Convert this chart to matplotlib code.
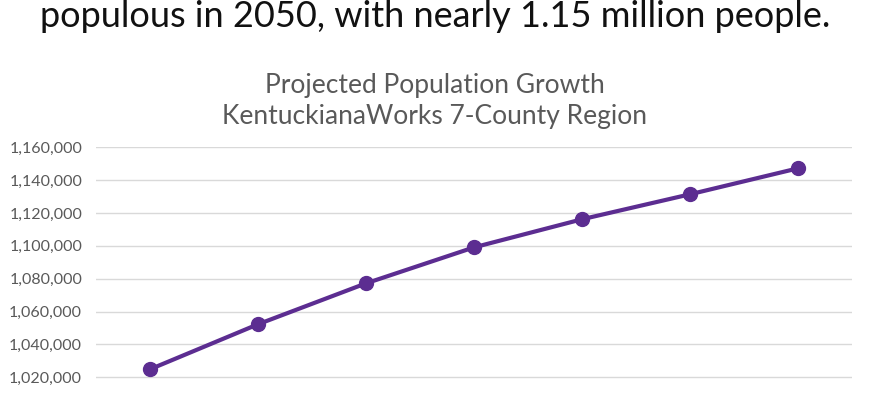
import matplotlib
matplotlib.use("Agg")
import matplotlib.pyplot as plt
from matplotlib.ticker import FuncFormatter

years = ["2020", "2025", "2030", "2035", "2040", "2045", "2050"]
population = [1024900, 1052300, 1077200, 1099100, 1116200, 1131400, 1147200]
y_ticks = [1020000, 1040000, 1060000, 1080000, 1100000, 1120000, 1140000, 1160000]
headline = "populous in 2050, with nearly 1.15 million people."
title_line1 = "Projected Population Growth"
title_line2 = "KentuckianaWorks 7-County Region"

plt.rcParams["font.family"] = ["Lato", "DejaVu Sans"]

W, H = 870, 400
fig = plt.figure(figsize=(W / 100, H / 100), dpi=100)
fig.patch.set_facecolor("white")

# axes: plot area x 96..852 px; y: 1,160,000 at 147.3 px, 1,000,000 at 410.2 px
left, right = 96 / W, 852 / W
top_px, bot_px = 147.3, 410.2
ax = fig.add_axes([left, 1 - bot_px / H, right - left, (bot_px - top_px) / H])

x = list(range(len(years)))
ax.plot(x, population, color="#5C2D91", lw=3, marker="o", ms=10,
        solid_capstyle="round", zorder=3)
ax.set_xlim(-0.5, len(years) - 0.5)
ax.set_ylim(1000000, 1160000)
ax.set_yticks(y_ticks)
ax.yaxis.set_major_formatter(FuncFormatter(lambda v, p: f"{int(v):,}"))
ax.grid(axis="y", color="#D9D9D9", lw=1)
ax.set_axisbelow(True)
for s in ax.spines.values():
    s.set_visible(False)
ax.tick_params(axis="y", length=0, pad=10, labelsize=11.5, labelcolor="#595959")
ax.set_xticks(x)
ax.set_xticklabels(years)
ax.tick_params(axis="x", length=0, labelbottom=False)

fig.text(0.5, 1 - 27 / H, headline, ha="center", va="baseline",
         fontsize=26, color="#111111")
fig.text(0.5, 1 - 93 / H, title_line1, ha="center",
         va="baseline", fontsize=19, color="#595959")
fig.text(0.5, 1 - 124 / H, title_line2, ha="center",
         va="baseline", fontsize=19, color="#595959")

fig.savefig("out.png", dpi=100, facecolor="white")
